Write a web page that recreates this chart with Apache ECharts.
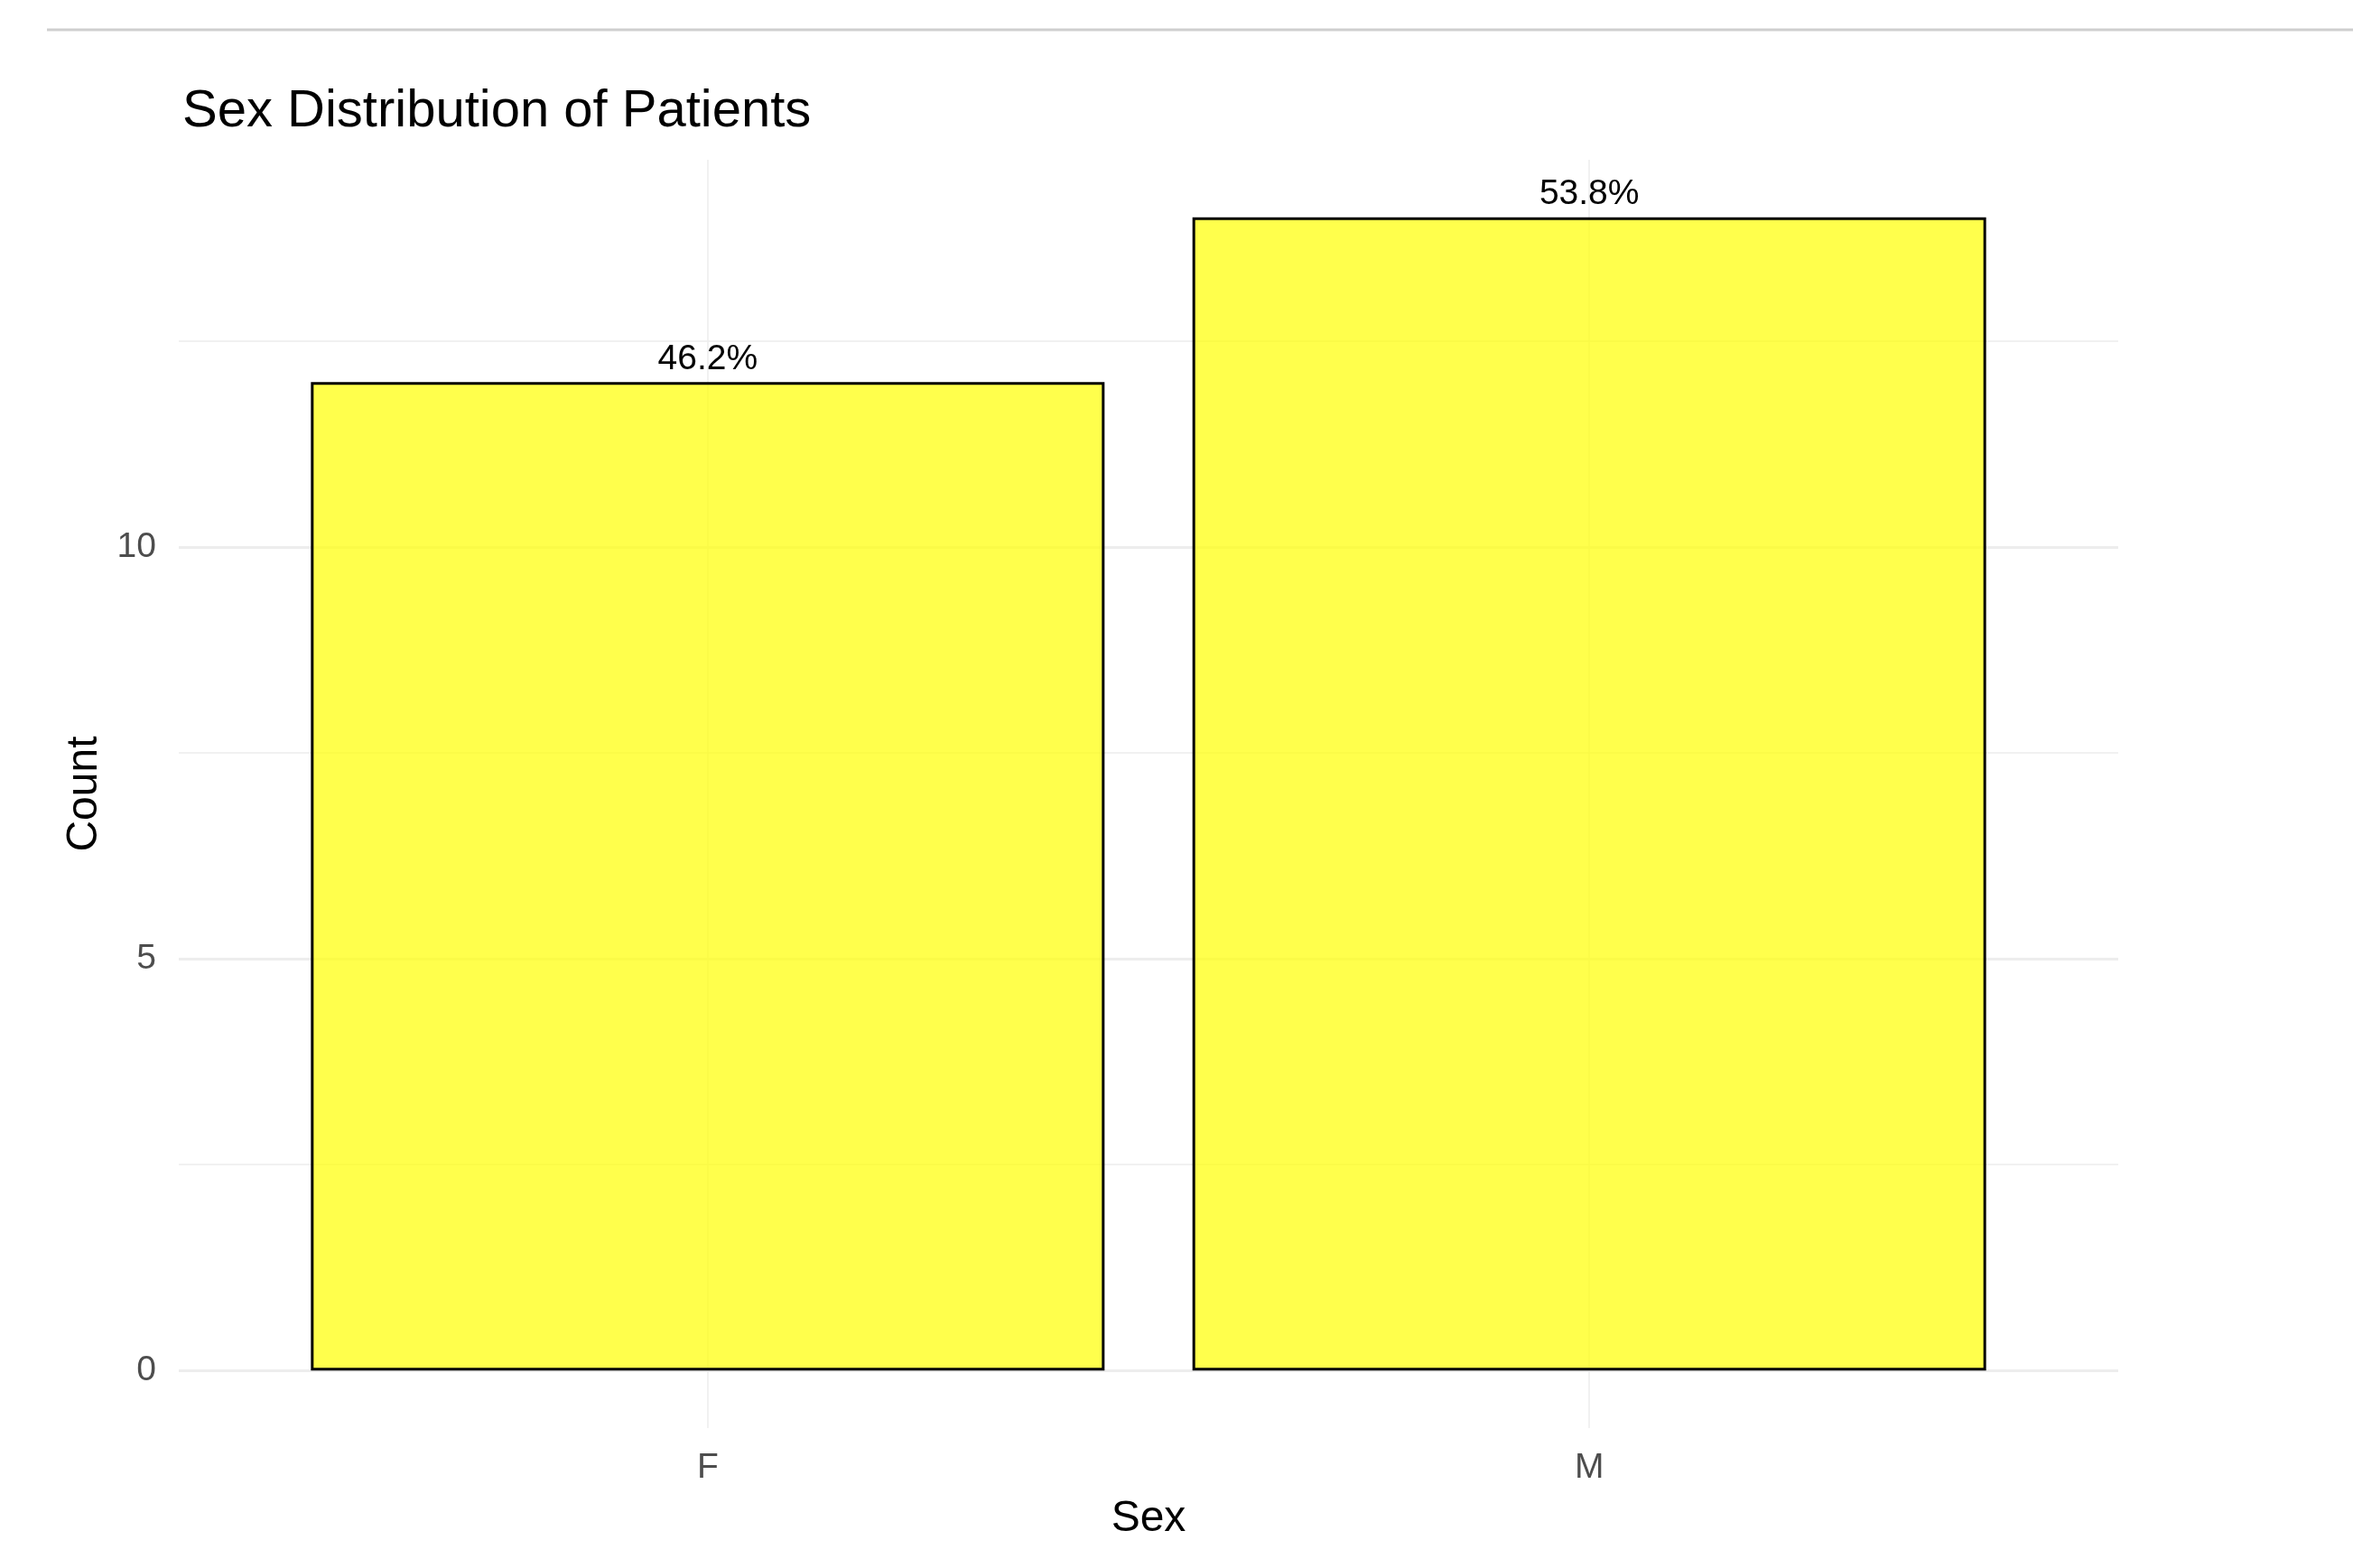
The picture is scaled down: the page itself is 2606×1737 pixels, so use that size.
<!DOCTYPE html>
<html>
<head>
<meta charset="utf-8">
<script src="https://cdn.jsdelivr.net/npm/echarts@6/dist/echarts.min.js"></script>
<style>
  html, body { margin: 0; padding: 0; background: #fff; }
  #chart { width: 2606px; height: 1737px; }
</style>
</head>
<body>
<div id="chart"></div>
<script>
// data
const categories = ['F', 'M'];
const counts = [12, 14];
const yTicks = [0, 5, 10];
const yMinorTicks = [2.5, 7.5, 12.5];

const FONT = '"Liberation Sans", Arial, sans-serif';
const total = counts.reduce((a, b) => a + b, 0);
const pctLabels = counts.map(c => (c / total * 100).toFixed(1) + '%');

const chart = echarts.init(document.getElementById('chart'));

const gridLines = [];
yTicks.forEach(v => gridLines.push({ yAxis: v, lineStyle: { width: 3 } }));
yMinorTicks.forEach(v => gridLines.push({ yAxis: v, lineStyle: { width: 1.5 } }));
categories.forEach((c, i) => gridLines.push({ xAxis: i, lineStyle: { width: 1.5 } }));

let option = {
  backgroundColor: '#ffffff',
  animation: false,
  title: {
    text: 'Sex Distribution of Patients',
    left: 197,
    top: 90,
    textStyle: { fontFamily: FONT, fontSize: 58, fontWeight: 'normal', color: '#000' }
  },
  graphic: [{
    type: 'line',
    shape: { x1: 52, y1: 33, x2: 2606, y2: 33 },
    style: { stroke: '#cfcfcf', lineWidth: 3 }
  }],
  grid: {
    left: 198,
    right: 260,
    top: 177,
    bottom: 155
  },
  xAxis: {
    type: 'value',
    min: -0.6,
    max: 1.6,
    name: 'Sex',
    nameLocation: 'middle',
    nameGap: 77,
    nameTextStyle: { fontFamily: FONT, fontSize: 48, color: '#000' },
    axisLine: { show: false },
    axisTick: { show: false },
    splitLine: { show: false },
    axisLabel: {
      customValues: categories.map((c, i) => i),
      formatter: v => categories[Math.round(v)],
      margin: 25,
      fontFamily: FONT,
      fontSize: 39,
      color: '#4d4d4d'
    }
  },
  yAxis: {
    type: 'value',
    min: -0.7,
    max: 14.7,
    name: 'Count',
    nameLocation: 'middle',
    nameRotate: 90,
    nameGap: 80,
    nameTextStyle: { fontFamily: FONT, fontSize: 48, color: '#000' },
    axisLine: { show: false },
    axisTick: { show: false },
    splitLine: { show: false },
    axisLabel: {
      customValues: yTicks,
      margin: 25,
      fontFamily: FONT,
      fontSize: 39,
      color: '#4d4d4d'
    }
  },
  series: [{
    type: 'bar',
    z: 2,
    barWidth: 879,
    data: counts.map((c, i) => [i, c]),
    itemStyle: {
      color: 'rgba(255,255,0,0.7)',
      borderColor: '#000',
      borderWidth: 3
    },
    label: {
      show: true,
      position: 'top',
      distance: 6,
      formatter: p => pctLabels[p.dataIndex],
      fontFamily: FONT,
      fontSize: 39,
      color: '#000'
    },
    markLine: {
      silent: true,
      z: 1,
      symbol: 'none',
      label: { show: false },
      lineStyle: { color: '#ededed', type: 'solid' },
      data: gridLines
    }
  }]
};

chart.setOption(option);
</script>
</body>
</html>
